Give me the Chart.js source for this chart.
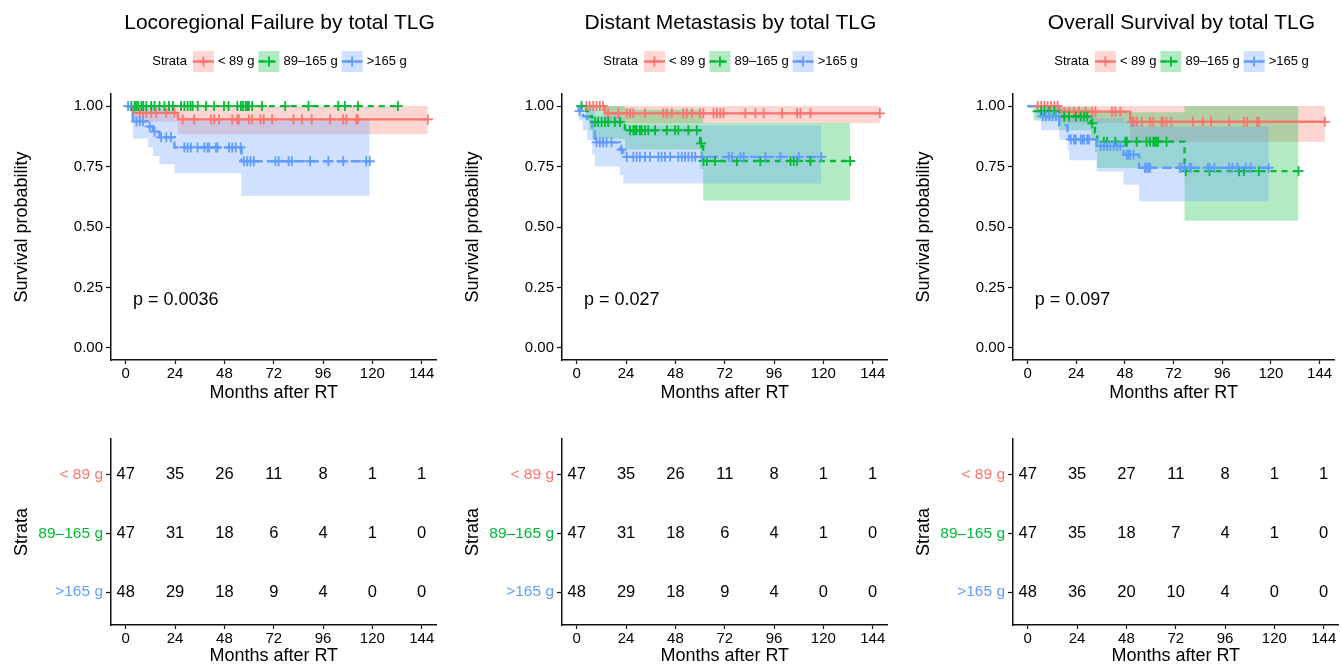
<!DOCTYPE html>
<html>
<head>
<meta charset="utf-8">
<script src="https://cdn.jsdelivr.net/npm/chart.js@4/dist/chart.umd.min.js"></script>
<style>
html,body{margin:0;padding:0;background:#fff;width:1341px;height:667px;overflow:hidden}
canvas{position:absolute}
</style>
</head>
<body>
<script>
// ---------------- data ----------------
const STRATA = ['< 89 g', '89–165 g', '>165 g'];
const STRATA_ROWS = [3, 2, 1];
const PANEL_TITLES = ['Locoregional Failure by total TLG', 'Distant Metastasis by total TLG', 'Overall Survival by total TLG'];
const P_VALUES = ['p = 0.0036', 'p = 0.027', 'p = 0.097'];
const TIME_TICKS = [0, 24, 48, 72, 96, 120, 144];
const SURV_TICKS = [0, 0.25, 0.5, 0.75, 1];

// Locoregional failure: one inner list per stratum (< 89 g, 89–165 g, >165 g)
const lrfTime  = [[0, 3.5, 25.3], [0], [0, 2.5, 3.5, 10.8, 13.2, 16.4, 23.7, 56.3]];
const lrfSurv  = [[1, 0.972, 0.945], [1], [1, 0.979, 0.937, 0.916, 0.894, 0.871, 0.829, 0.772]];
const lrfLower = [[1, 0.935, 0.884], [1], [1, 0.93, 0.866, 0.829, 0.795, 0.76, 0.722, 0.629]];
const lrfUpper = [[1, 1, 1], [1], [1, 1, 1, 1, 1, 0.99, 0.94, 0.94]];
const lrfEnd   = [147, 132.4, 118.7];
const lrfCens  = [
  [6.8, 8.4, 10, 12.4, 14.8, 19.7, 23.7, 27.7, 33.3, 41.4, 43, 45.4, 51.8, 54.3, 55, 59.9, 61.5, 65.5, 67.1, 71.2, 81.6, 85.7, 90.5, 99.4, 105.8, 107.4, 112.2, 113, 147],
  [2.7, 4.3, 5, 6, 7.6, 8.5, 10, 12.4, 14, 16.4, 18.8, 21, 22.9, 26.9, 28.5, 30.1, 31.5, 32.5, 35, 39, 43, 47.8, 50, 54.3, 56, 57, 58.3, 59.1, 59.9, 61.5, 66.3, 77.6, 88.9, 103.4, 106.6, 113, 132.4],
  [1.1, 5.2, 6.8, 8.4, 11.6, 14, 17.2, 19.7, 22, 28.5, 30.1, 31.7, 34.9, 38.2, 39.8, 40.6, 43.8, 44.6, 50.2, 51.8, 53.5, 55.9, 57.5, 59.1, 60.7, 62.3, 72.8, 74.4, 79.2, 80.8, 89.7, 98.6, 105.8, 117, 118.7]
];
const lrfRisk  = [[47, 35, 26, 11, 8, 1, 1], [47, 31, 18, 6, 4, 1, 0], [48, 29, 18, 9, 4, 0, 0]];

// Distant metastasis
const dmTime  = [[0, 13.7], [0, 4.5, 6, 7.5, 23.4, 60, 61.5], [0, 1, 3, 5, 7.5, 8.8, 21, 22.6]];
const dmSurv  = [[1, 0.97], [1, 0.979, 0.957, 0.934, 0.9, 0.846, 0.773], [1, 0.979, 0.958, 0.937, 0.895, 0.85, 0.82, 0.79]];
const dmLower = [[1, 0.929], [1, 0.94, 0.9, 0.865, 0.82, 0.74, 0.61], [1, 0.94, 0.9, 0.86, 0.8, 0.75, 0.715, 0.68]];
const dmUpper = [[1, 1], [1, 1, 1, 1, 0.985, 0.96, 0.93], [1, 1, 1, 1, 0.99, 0.96, 0.95, 0.92]];
const dmEnd   = [147.5, 133, 119];
const dmCens  = [
  [4.7, 6.3, 8, 9.6, 11.2, 12.8, 15.3, 20.2, 24.3, 25.9, 27.5, 33.2, 42.1, 43.8, 46.2, 51.8, 53.5, 56, 60, 61.6, 66.5, 68.2, 69.8, 71.4, 82, 86.9, 90.9, 99.9, 107.2, 108.8, 113.7, 147.5],
  [2.3, 8.8, 10.4, 12.1, 13.7, 15.3, 18.5, 21, 25.9, 27.5, 28.3, 29.1, 30.7, 31.6, 33.2, 34.8, 38.1, 43.8, 47.8, 49.4, 54.3, 58.4, 60.5, 61.7, 63.3, 67.3, 77.9, 89.3, 104, 105.6, 107.2, 113.7, 133],
  [1.3, 9.6, 11.2, 12.8, 14.5, 16.9, 21.8, 24.3, 27.5, 29.1, 30.7, 33.2, 35.6, 39.7, 41.3, 42.9, 45.4, 49.4, 51.1, 52.7, 54.3, 56, 57.6, 60.9, 73.9, 75.5, 79.6, 81.2, 91.8, 99.1, 108, 119]
];
const dmRisk  = [[47, 35, 26, 11, 8, 1, 1], [47, 31, 18, 6, 4, 1, 0], [48, 29, 18, 9, 4, 0, 0]];

// Overall survival
const osTime  = [[0, 15.6, 50.6], [0, 3, 15.6, 31.1, 33.2, 34.3, 77.4], [0, 4.2, 6.7, 15.6, 19.7, 20.5, 34, 47.3, 55]];
const osSurv  = [[1, 0.977, 0.935], [1, 0.979, 0.957, 0.929, 0.89, 0.853, 0.731], [1, 0.979, 0.958, 0.921, 0.887, 0.862, 0.835, 0.799, 0.745]];
const osLower = [[1, 0.93, 0.853], [1, 0.94, 0.9, 0.86, 0.81, 0.744, 0.526], [1, 0.95, 0.9, 0.86, 0.82, 0.776, 0.73, 0.675, 0.607]];
const osUpper = [[1, 1, 1], [1, 1, 0.995, 0.985, 0.975, 0.975, 1], [1, 1, 1, 0.99, 0.97, 0.96, 0.95, 0.935, 0.915]];
const osEnd   = [146.6, 133.6, 118.9];
const osCens  = [
  [5, 6.7, 8.3, 9.9, 11.6, 13.2, 14.8, 18.1, 20.5, 22.9, 25.4, 28.6, 31.9, 33.5, 41.6, 43.3, 45.7, 51.4, 52.2, 53.8, 56.3, 60.4, 62, 66, 66.9, 68.5, 70.9, 81.5, 86.4, 90.4, 99.4, 106.7, 108.3, 113.2, 114, 146.6],
  [6.7, 8.3, 10.7, 13.2, 18.1, 20.5, 23.8, 26.2, 27.8, 29.4, 31.9, 37.6, 39.2, 43.3, 48.2, 49, 53.8, 58.7, 60.4, 62, 62.8, 63.6, 64.4, 68.5, 78, 89.7, 104.3, 106.7, 114, 133.6],
  [7.5, 9.1, 10.7, 12.3, 14, 21.3, 22.9, 23.8, 26.2, 27, 27.8, 29.4, 30.3, 36, 37.6, 39.2, 40.8, 42.5, 44.1, 45.7, 49, 49.8, 50.6, 52.2, 57.9, 58.7, 59.5, 60.4, 75, 75.8, 77.4, 79.9, 80.7, 88.8, 89.7, 92.1, 99.4, 101, 103.5, 107.5, 110, 118.9]
];
const osRisk  = [[47, 35, 27, 11, 8, 1, 1], [47, 35, 18, 7, 4, 1, 0], [48, 36, 20, 10, 4, 0, 0]];

// ---------------- style ----------------
const FONT = '"Liberation Sans", Arial, Helvetica, sans-serif';
const COLORS = ['#F8766D', '#00BA38', '#619CFF'];
const BANDS = ['rgba(248,118,109,0.3)', 'rgba(0,186,56,0.3)', 'rgba(97,156,255,0.3)'];
const DASHES = [[], [6, 5], [10, 4]];
const AXIS_COLOR = '#111';

const PANELS = [
  {time: lrfTime, surv: lrfSurv, lower: lrfLower, upper: lrfUpper, end: lrfEnd, cens: lrfCens, risk: lrfRisk},
  {time: dmTime, surv: dmSurv, lower: dmLower, upper: dmUpper, end: dmEnd, cens: dmCens, risk: dmRisk},
  {time: osTime, surv: osSurv, lower: osLower, upper: osUpper, end: osEnd, cens: osCens, risk: osRisk}
];

const COLS = [{left: 0, width: 451}, {left: 451, width: 451}, {left: 902, width: 439}];
const KM_H = 410, RISK_H = 257;
const AREA_LEFT = 111, AREA_RIGHT = 436.5;

function stepPoints(times, vals, end) {
  const pts = times.map((t, i) => ({x: t, y: vals[i]}));
  pts.push({x: end, y: vals[vals.length - 1]});
  return pts;
}
function valueAt(times, vals, t) {
  let v = vals[0];
  for (let i = 0; i < times.length; i++) if (times[i] <= t) v = vals[i];
  return v;
}

function xAxis(height, titlePad) {
  return {
    type: 'linear', min: -7.2, max: 151.2,
    afterBuildTicks: s => { s.ticks = TIME_TICKS.map(v => ({value: v})); },
    afterFit: s => { s.height = height; },
    grid: {display: true, drawOnChartArea: false, drawTicks: true, tickLength: 4, color: AXIS_COLOR, tickWidth: 1.2},
    border: {display: true, color: AXIS_COLOR, width: 1.5},
    ticks: {color: '#000', font: {family: FONT, size: 15}, padding: 1, maxRotation: 0, autoSkip: false, callback: v => String(v)},
    title: {display: true, text: 'Months after RT', color: '#000', font: {family: FONT, size: 18}, padding: {top: 0, bottom: titlePad}}
  };
}

const kmDecor = {
  id: 'kmDecor',
  afterDraw(chart, args, opts) {
    const ctx = chart.ctx;
    const p = opts.panel;
    ctx.save();
    // title
    ctx.fillStyle = '#000';
    ctx.font = '21px ' + FONT;
    ctx.textAlign = 'center';
    ctx.textBaseline = 'middle';
    ctx.fillText(PANEL_TITLES[p], 279.5, 23);
    // legend
    ctx.font = '13px ' + FONT;
    const cy = 61.5, box = 21;
    const wS = ctx.measureText('Strata').width;
    const widths = STRATA.map(s => ctx.measureText(s).width);
    let total = wS + 6;
    widths.forEach(w => { total += box + 4 + w + 4; });
    total -= 4;
    let x = 279.5 - total / 2;
    ctx.textAlign = 'left';
    ctx.fillText('Strata', x, cy);
    x += wS + 6;
    STRATA.forEach((s, i) => {
      ctx.fillStyle = BANDS[i];
      ctx.fillRect(x, cy - box / 2, box, box);
      ctx.strokeStyle = COLORS[i];
      ctx.lineWidth = 2.4;
      ctx.setLineDash(DASHES[i]);
      ctx.beginPath(); ctx.moveTo(x, cy); ctx.lineTo(x + box, cy); ctx.stroke();
      ctx.setLineDash([]);
      ctx.lineWidth = 1.8;
      ctx.beginPath();
      ctx.moveTo(x + box / 2 - 5, cy); ctx.lineTo(x + box / 2 + 5, cy);
      ctx.moveTo(x + box / 2, cy - 5); ctx.lineTo(x + box / 2, cy + 5);
      ctx.stroke();
      ctx.fillStyle = '#000';
      ctx.fillText(s, x + box + 4, cy);
      x += box + 4 + widths[i] + 4;
    });
    // p-value
    ctx.font = '18px ' + FONT;
    ctx.fillText(P_VALUES[p], chart.scales.x.getPixelForValue(3.5), chart.scales.y.getPixelForValue(0.2));
    ctx.restore();
  }
};

const riskLabels = {
  id: 'riskLabels',
  afterDatasetsDraw(chart) {
    const ctx = chart.ctx;
    ctx.save();
    ctx.fillStyle = '#000';
    ctx.font = '16.5px ' + FONT;
    ctx.textAlign = 'center';
    ctx.textBaseline = 'middle';
    chart.data.datasets.forEach((ds, di) => {
      const meta = chart.getDatasetMeta(di);
      meta.data.forEach((pt, i) => ctx.fillText(String(ds.data[i].n), pt.x, pt.y));
    });
    ctx.restore();
  }
};

function makeCanvas(left, top, w, h) {
  const c = document.createElement('canvas');
  c.width = w; c.height = h;
  c.style.left = left + 'px'; c.style.top = top + 'px';
  c.style.width = w + 'px'; c.style.height = h + 'px';
  document.body.appendChild(c);
  return c;
}

PANELS.forEach((P, p) => {
  const col = COLS[p];
  const datasets = [];
  // confidence bands
  for (let s = 0; s < 3; s++) {
    datasets.push({
      data: stepPoints(P.time[s], P.upper[s], P.end[s]), stepped: true,
      borderColor: 'rgba(0,0,0,0)', borderWidth: 0, pointRadius: 0,
      backgroundColor: BANDS[s], fill: '+1', order: 103 - s
    });
    datasets.push({
      data: stepPoints(P.time[s], P.lower[s], P.end[s]), stepped: true,
      borderColor: 'rgba(0,0,0,0)', borderWidth: 0, pointRadius: 0,
      fill: false, order: 103 - s
    });
  }
  // survival curves
  for (let s = 0; s < 3; s++) {
    datasets.push({
      data: stepPoints(P.time[s], P.surv[s], P.end[s]), stepped: true,
      borderColor: COLORS[s], borderWidth: 2.4, borderDash: DASHES[s],
      pointRadius: 0, fill: false, order: 53 - s
    });
  }
  // censor marks
  for (let s = 0; s < 3; s++) {
    datasets.push({
      data: P.cens[s].map(t => ({x: t, y: valueAt(P.time[s], P.surv[s], t)})),
      showLine: false, pointStyle: 'cross', pointRadius: 5, pointBorderWidth: 1.8,
      borderColor: COLORS[s], backgroundColor: COLORS[s], fill: false, order: 13 - s
    });
  }
  new Chart(makeCanvas(col.left, 0, col.width, KM_H), {
    type: 'line',
    data: {datasets},
    options: {
      responsive: false, animation: false, events: [],
      layout: {padding: {top: 94, left: 0, right: col.width - AREA_RIGHT, bottom: 0}},
      plugins: {legend: {display: false}, tooltip: {enabled: false}, kmDecor: {panel: p}},
      scales: {
        x: xAxis(50, 6),
        y: {
          type: 'linear', min: -0.05, max: 1.05,
          afterBuildTicks: s => { s.ticks = SURV_TICKS.map(v => ({value: v})); },
          afterFit: s => { s.width = AREA_LEFT; },
          grid: {display: true, drawOnChartArea: false, drawTicks: true, tickLength: 5, color: AXIS_COLOR, tickWidth: 1.2},
          border: {display: true, color: AXIS_COLOR, width: 1.5},
          ticks: {color: '#000', font: {family: FONT, size: 15}, padding: 3, callback: v => v.toFixed(2)},
          title: {display: true, text: 'Survival probability', color: '#000', font: {family: FONT, size: 18}, padding: {top: 11, bottom: 0}}
        }
      }
    },
    plugins: [kmDecor]
  });

  // risk table
  const rds = STRATA.map((name, s) => ({
    data: TIME_TICKS.map((t, i) => ({x: t, y: STRATA_ROWS[s], n: P.risk[s][i]})),
    pointRadius: 0, showLine: false
  }));
  new Chart(makeCanvas(col.left, KM_H, col.width, RISK_H), {
    type: 'scatter',
    data: {datasets: rds},
    options: {
      responsive: false, animation: false, events: [],
      layout: {padding: {top: 29, left: 0, right: col.width - AREA_RIGHT, bottom: 0}},
      plugins: {legend: {display: false}, tooltip: {enabled: false}},
      scales: {
        x: xAxis(42, 0),
        y: {
          type: 'linear', min: 0.44, max: 3.61,
          afterBuildTicks: s => { s.ticks = STRATA_ROWS.map(v => ({value: v})); },
          afterFit: s => { s.width = AREA_LEFT; },
          grid: {display: true, drawOnChartArea: false, drawTicks: true, tickLength: 5, color: AXIS_COLOR, tickWidth: 1.2},
          border: {display: true, color: AXIS_COLOR, width: 1.5},
          ticks: {
            font: {family: FONT, size: 15.5}, padding: 3,
            callback: v => STRATA[STRATA_ROWS.indexOf(v)],
            color: c => COLORS[STRATA_ROWS.indexOf(c.tick.value)]
          },
          title: {display: true, text: 'Strata', color: '#000', font: {family: FONT, size: 18}, padding: {top: 11, bottom: 0}}
        }
      }
    },
    plugins: [riskLabels]
  });
});
</script>
</body>
</html>
